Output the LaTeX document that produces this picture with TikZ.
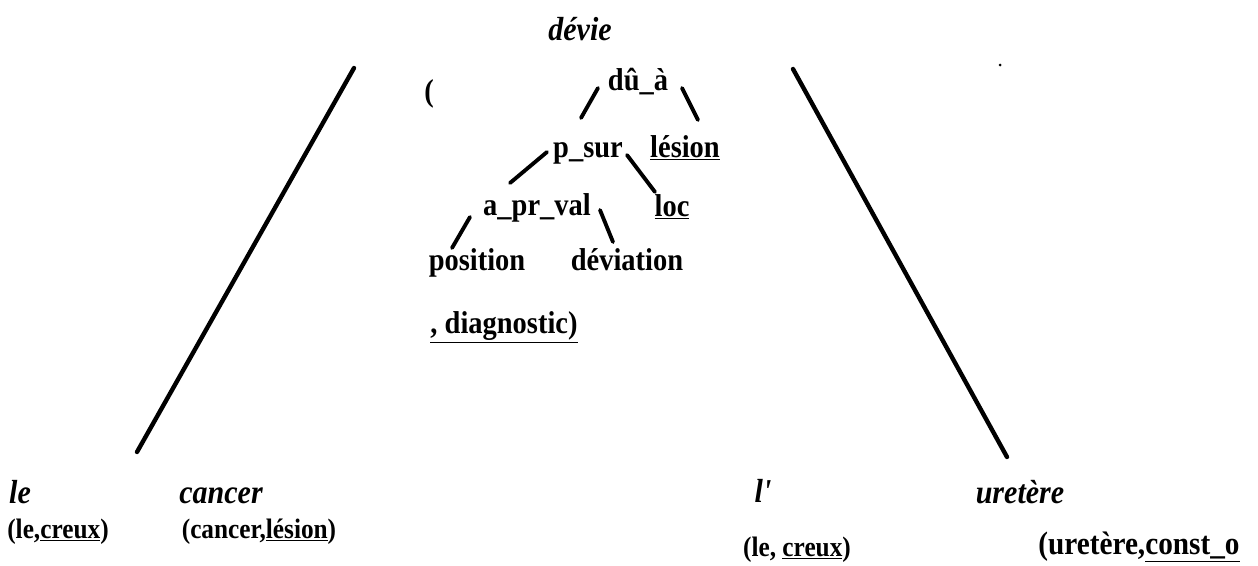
\documentclass[tikz,border=0pt]{standalone}
\usepackage{fontspec}
\setmainfont{Liberation Serif}
\newfontfamily\scanfont[FakeStretch=0.9]{Liberation Serif}
\begin{document}
\begin{tikzpicture}[x=0.02cm,y=-0.02cm,
	tree/.style={inner sep=0pt, anchor=base, font=\scanfont\fontsize{18}{20}\selectfont\bfseries},
	word/.style={inner sep=0pt, anchor=base, font=\scanfont\fontsize{19}{21}\selectfont\bfseries\itshape},
	gloss/.style={inner sep=0pt, anchor=base, font=\scanfont\fontsize{16}{18}\selectfont\bfseries},
	branch/.style={line width=2.2pt, line cap=round},
	arm/.style={line width=2.5pt, line cap=round}]
	\useasboundingbox (0,0) rectangle (1258,565);
	% tete et arbre
	\draw (580,40) node[word] (dv) {dévie};
	\draw (429,101) node[tree] (par) {(};
	\draw (638,90) node[tree] (du) {dû\_à};
	\draw (588,157) node[tree] (psur) {p\_sur};
	\draw (685,157) node[tree] (lesion) {\underline{lésion}};
	\draw (537,215) node[tree] (apr) {a\_pr\_val};
	\draw (672,216) node[tree] (loc) {\underline{loc}};
	\draw (477,270) node[tree] (pos) {position};
	\draw (627,270) node[tree] (dev) {déviation};
	\draw (504,333) node[tree] (diag) {\underline{, diagnostic)}};
	\draw[branch] ([shift={(-40,-2)}]du.base) to ([shift={(-7,-39)}]psur.base);
	\draw[branch] ([shift={(44,-2)}]du.base) to ([shift={(13,-37)}]lesion.base);
	\draw[branch] ([shift={(-41,-5)}]psur.base) to ([shift={(-27,-32)}]apr.base);
	\draw[branch] ([shift={(39,-2)}]psur.base) to ([shift={(-17,-24)}]loc.base);
	\draw[branch] ([shift={(-67,2)}]apr.base) to ([shift={(-25,-22)}]pos.base);
	\draw[branch] ([shift={(63,-5)}]apr.base) to ([shift={(-14,-28)}]dev.base);
	% mots du bas
	\draw (20,503) node[word] (le) {le};
	\draw (221,503) node[word] (cancer) {cancer};
	\draw (763,502) node[word] (lp) {l'};
	\draw (1020,503) node[word] (ure) {uretère};
	\draw (58,538) node[gloss] (lec1) {(le,\underline{creux})};
	\draw (259,538) node[gloss] (canc) {(cancer,\underline{lésion})};
	\draw (797,556) node[gloss] (lec2) {(le, \underline{creux})};
	\draw (1038,554) node[gloss, anchor=base west, font=\scanfont\fontsize{18.5}{20}\selectfont\bfseries] (ure2) {(uretère,\underline{const\_o}};
	\draw[arm] ([shift={(-226,28)}]dv.base) to ([shift={(-84,-51)}]cancer.base);
	\draw[arm] ([shift={(213,29)}]dv.base) to ([shift={(-13,-46)}]ure.base);
	\fill (1000,65) circle (1.5);
\end{tikzpicture}
\end{document}
